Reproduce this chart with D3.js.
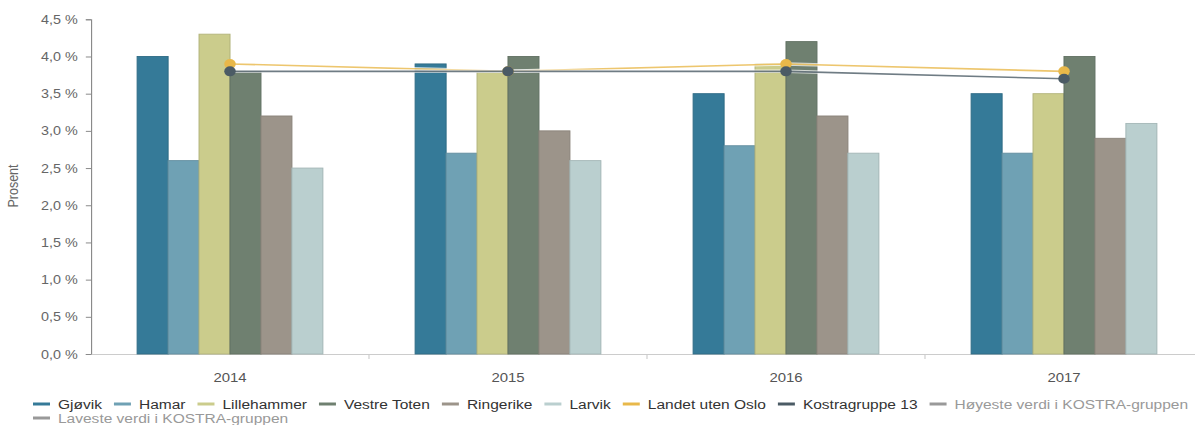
<!DOCTYPE html>
<html>
<head>
<meta charset="utf-8">
<script src="https://cdn.jsdelivr.net/npm/d3@7"></script>
<style>
  html, body { margin: 0; padding: 0; background: #fff; }
  svg { display: block; font-family: "Liberation Sans", Arial, sans-serif; }
</style>
</head>
<body>
<div id="chart"></div>
<script>
// data
var years = ['2014', '2015', '2016', '2017']
var barNames = ['Gjøvik', 'Hamar', 'Lillehammer', 'Vestre Toten', 'Ringerike', 'Larvik']
var gjovik = [4.0, 3.9, 3.5, 3.5]
var hamar = [2.6, 2.7, 2.8, 2.7]
var lillehammer = [4.3, 3.8, 3.9, 3.5]
var vestreToten = [3.8, 4.0, 4.2, 4.0]
var ringerike = [3.2, 3.0, 3.2, 2.9]
var larvik = [2.5, 2.6, 2.7, 3.1]
var landet = [3.9, 3.8, 3.9, 3.8]
var kostra = [3.8, 3.8, 3.8, 3.7]
var hoyeste = []
var laveste = []
var yTicks = [0, 0.5, 1, 1.5, 2, 2.5, 3, 3.5, 4, 4.5]

var barColors = ['#357a98', '#6fa1b4', '#cbcc8c', '#6f8070', '#9c948a', '#bacfcf']
var barValues = [gjovik, hamar, lillehammer, vestreToten, ringerike, larvik]

var lineSeries = [
  {name: 'Landet uten Oslo', values: landet, color: '#e8b84a'},
  {name: 'Kostragruppe 13', values: kostra, color: '#4b5b65'}
]

// the reference is stretched sideways, so draw in a narrower box and stretch it
var SX = 1.15
var W = 1195, H = 425
var VW = W / SX

var svg = d3.select('#chart').append('svg')
  .attr('width', W)
  .attr('height', H)
  .attr('viewBox', '0 0 ' + VW + ' ' + H)
  .attr('preserveAspectRatio', 'none')

var x0 = d3.scaleBand().domain(years).range([91 / SX, 1203 / SX])
var gp = 0.166
var x1 = d3.scaleBand().domain(barNames)
  .range([x0.bandwidth() * gp, x0.bandwidth() * (1 - gp)])
var y = d3.scaleLinear().domain([0, 4.5]).range([354, 19.3])

var fmt = d3.formatLocale({decimal: ',', thousands: ' ', grouping: [3], currency: ['', '']}).format('.1f')

// y axis
var yAxis = svg.append('g')
  .attr('transform', 'translate(' + x0.range()[0] + ',0)')
  .call(d3.axisLeft(y).tickValues(yTicks).tickSize(4.5).tickPadding(7)
    .tickFormat(function (d) { return fmt(d) + ' %' }))
yAxis.select('.domain').attr('stroke', '#8a8a8a')
yAxis.selectAll('.tick line').attr('stroke', '#8a8a8a')
yAxis.selectAll('.tick text')
  .attr('fill', '#666')
  .style('font-size', '12.5px')
  .style('font-family', '"Liberation Sans", Arial, sans-serif')

svg.append('text')
  .attr('transform', 'translate(' + (18 / SX) + ',' + 186 + ') rotate(-90)')
  .attr('text-anchor', 'middle')
  .attr('fill', '#666')
  .style('font-size', '12.5px')
  .text('Prosent')

// x axis
var xAxis = svg.append('g')
  .attr('transform', 'translate(0,' + y(0) + ')')
  .call(d3.axisBottom(x0).tickSize(0).tickPadding(18.5))
xAxis.select('.domain').attr('stroke', '#cccccc')
xAxis.selectAll('.tick text')
  .attr('fill', '#555')
  .style('font-size', '13px')
  .style('font-family', '"Liberation Sans", Arial, sans-serif')
xAxis.selectAll('.cat-tick')
  .data(years.slice(1))
  .enter().append('line')
  .attr('x1', function (d) { return x0(d) })
  .attr('x2', function (d) { return x0(d) })
  .attr('y1', 0)
  .attr('y2', 5)
  .attr('stroke', '#cccccc')

// bars
var groups = svg.append('g').selectAll('g')
  .data(years)
  .enter().append('g')
  .attr('transform', function (d) { return 'translate(' + x0(d) + ',0)' })

groups.selectAll('rect')
  .data(function (d, i) {
    return barNames.map(function (n, j) { return {name: n, value: barValues[j][i], color: barColors[j]} })
  })
  .enter().append('rect')
  .attr('x', function (d) { return x1(d.name) })
  .attr('width', x1.bandwidth())
  .attr('y', function (d) { return y(d.value) })
  .attr('height', function (d) { return y(0) - y(d.value) })
  .attr('fill', function (d) { return d.color })
  .attr('stroke', function (d) { return d3.color(d.color).darker(0.35) })
  .attr('stroke-width', 0.9)

// lines + markers
var line = d3.line()
  .x(function (d, i) { return x0(years[i]) + x0.bandwidth() / 2 })
  .y(function (d) { return y(d) })

lineSeries.forEach(function (s) {
  svg.append('path')
    .attr('d', line(s.values))
    .attr('fill', 'none')
    .attr('stroke', '#ffffff')
    .attr('stroke-opacity', 0.7)
    .attr('stroke-width', 3.5)
  svg.append('path')
    .attr('d', line(s.values))
    .attr('fill', 'none')
    .attr('stroke', s.color)
    .attr('stroke-opacity', 0.8)
    .attr('stroke-width', 1.6)
})
lineSeries.forEach(function (s) {
  svg.append('g').selectAll('circle')
    .data(s.values)
    .enter().append('circle')
    .attr('cx', function (d, i) { return x0(years[i]) + x0.bandwidth() / 2 })
    .attr('cy', function (d) { return y(d) })
    .attr('r', 5)
    .attr('fill', s.color)
})

// legend
var legendItems = barNames.map(function (n, i) { return {name: n, color: barColors[i], text: '#333'} })
  .concat(lineSeries.map(function (s) { return {name: s.name, color: s.color, text: '#333'} }))
  .concat([
    {name: 'Høyeste verdi i KOSTRA-gruppen', color: '#999', text: '#999', values: hoyeste},
    {name: 'Laveste verdi i KOSTRA-gruppen', color: '#999', text: '#999', values: laveste}
  ])

var legend = svg.append('g')
var lx0 = 33 / SX
var lx = lx0, ly = 404
var symW = 17 / SX, symGap = 8 / SX, itemGap = 12 / SX, maxX = 1192 / SX
legendItems.forEach(function (it) {
  var g = legend.append('g')
  var t = g.append('text')
    .attr('fill', it.text)
    .style('font-size', '13.5px')
    .attr('dy', '0.35em')
    .text(it.name)
  var tw = t.node().getComputedTextLength()
  if (lx + symW + symGap + tw > maxX) { lx = lx0; ly += 14 }
  g.attr('transform', 'translate(' + lx + ',' + ly + ')')
  g.insert('line', 'text')
    .attr('x1', 0).attr('x2', symW)
    .attr('y1', 0).attr('y2', 0)
    .attr('stroke', it.color)
    .attr('stroke-width', 3)
  t.attr('x', symW + symGap)
  lx += symW + symGap + tw + itemGap
})
</script>
</body>
</html>
